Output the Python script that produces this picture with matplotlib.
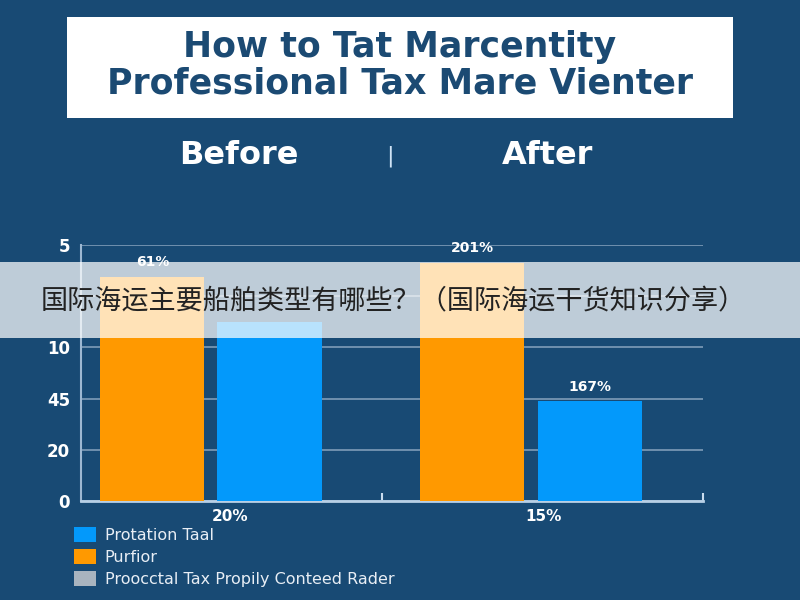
import matplotlib
matplotlib.use("Agg")
import matplotlib.pyplot as plt
from matplotlib.patches import Rectangle, Patch

plt.rcParams["font.family"] = ["DejaVu Sans"]

BG = "#184a74"
ORANGE = "#ff9900"
BLUE = "#0399fb"
GREY = "#a9b4bf"

title_lines = ["How to Tat Marcentity", "Professional Tax Mare Vienter"]
groups = ["Before", "After"]
orange_values = [4.375, 4.65]
blue_values = [3.5, 1.95]
orange_labels = ["61%", "201%"]
blue_labels = ["", "167%"]
x_labels = ["20%", "15%"]
y_tick_labels = ["0", "20", "45", "10", "", "5"]
legend_labels = ["Protation Taal", "Purfior", "Proocctal Tax Propily Conteed Rader"]
banner_text = "国际海运主要船舶类型有哪些？（国际海运干货知识分享）"

fig = plt.figure(figsize=(8, 6), dpi=100, facecolor=BG)

# title box
fig.patches.append(Rectangle((0.084, 0.8033), 0.8325, 0.168, transform=fig.transFigure,
                             facecolor="white", edgecolor="none", zorder=1))
fig.text(0.5, 0.921, title_lines[0], ha="center", va="center", fontsize=25,
         fontweight="bold", color="#1b4a73", zorder=2)
fig.text(0.5, 0.861, title_lines[1], ha="center", va="center", fontsize=25,
         fontweight="bold", color="#1b4a73", zorder=2)

# before / after headers
fig.text(239 / 800, 1 - 156 / 600, groups[0], ha="center", va="center", fontsize=23,
         fontweight="bold", color="white")
fig.text(390 / 800, 1 - 156 / 600, "|", ha="center", va="center", fontsize=16,
         color="#cfe3f5")
fig.text(548 / 800, 1 - 156 / 600, groups[1], ha="center", va="center", fontsize=23,
         fontweight="bold", color="white")

ax = fig.add_axes([81 / 800, 1 - 501 / 600, 622 / 800, 256 / 600])
ax.set_facecolor(BG)

x = [0, 1]
offset = 0.183
width = 0.325
ax.bar([v - offset for v in x], orange_values, width=width, color=ORANGE, zorder=3)
ax.bar([v + offset for v in x], blue_values, width=width, color=BLUE, zorder=3)

for i in range(len(x)):
    if orange_labels[i]:
        ax.annotate(orange_labels[i], (x[i] - offset, orange_values[i]), xytext=(0, 6),
                    textcoords="offset points", ha="center", va="bottom",
                    color="white", fontsize=10, fontweight="bold")
    if blue_labels[i]:
        ax.annotate(blue_labels[i], (x[i] + offset, blue_values[i]), xytext=(0, 5),
                    textcoords="offset points", ha="center", va="bottom",
                    color="white", fontsize=10, fontweight="bold")

ax.set_xlim(-0.406, 1.5375)
ax.set_ylim(0, 5)
ax.set_yticks(range(6))
ax.set_yticklabels(y_tick_labels)
ax.set_xticks([0.06, 1.04])
ax.set_xticklabels(x_labels)
ax.set_xticks([0.534, 1.5375], minor=True)
ax.tick_params(axis="x", which="major", length=0, pad=6, labelsize=11, labelcolor="white")
ax.tick_params(axis="x", which="minor", length=6, direction="in", color="#c9dcee", width=1.5)
ax.tick_params(axis="y", length=0, pad=8, labelsize=12, labelcolor="white")
for lbl in ax.get_xticklabels() + ax.get_yticklabels():
    lbl.set_fontweight("bold")

ax.grid(axis="y", color="#7f9cb8", linewidth=1.2, zorder=0)
for s in ["top", "right"]:
    ax.spines[s].set_visible(False)
ax.spines["left"].set_color("#9db8d2")
ax.spines["bottom"].set_color("#b8d0e6")
ax.spines["left"].set_linewidth(1.5)
ax.spines["bottom"].set_linewidth(2)

# legend
handles = [Patch(facecolor=BLUE), Patch(facecolor=ORANGE), Patch(facecolor=GREY)]
fig.legend(handles, legend_labels, loc="upper left", bbox_to_anchor=(60 / 800, 1 - 513 / 600),
           frameon=False, fontsize=11.5, labelcolor="#e8eef5", handlelength=1.35,
           handleheight=1.0, handletextpad=0.55, labelspacing=0.4)

# banner overlay
fig.patches.append(Rectangle((0, 1 - 338 / 600), 1, 76 / 600, transform=fig.transFigure,
                             facecolor="white", alpha=0.72, edgecolor="none", zorder=5))
fig.text(393 / 800, 1 - 301 / 600, banner_text, ha="center", va="center", fontsize=19.5,
         color="#222222", family=["Noto Sans CJK SC", "DejaVu Sans"], zorder=6)

fig.savefig("out.png", dpi=100, facecolor=BG)
